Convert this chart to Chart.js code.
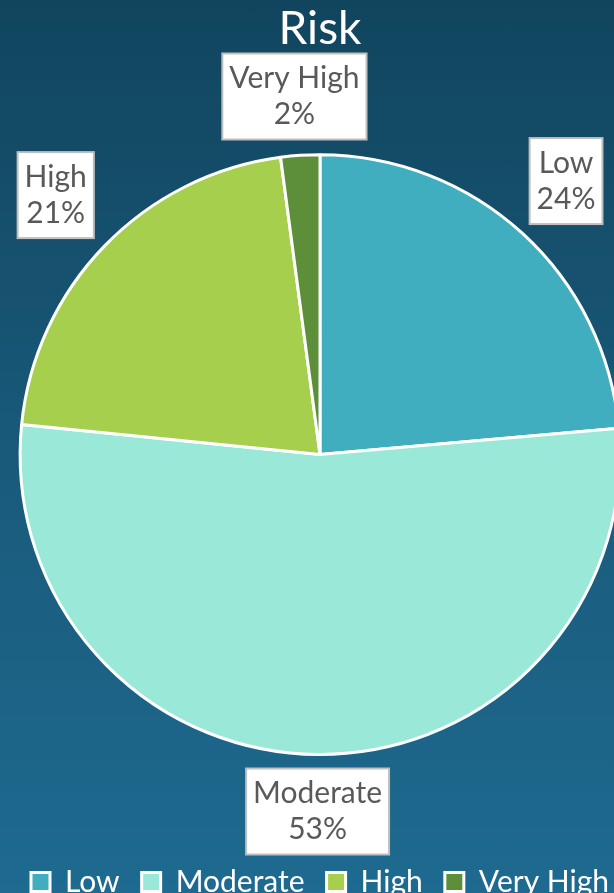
<!DOCTYPE html>
<html>
<head>
<meta charset="utf-8">
<title>Risk</title>
<script src="https://cdn.jsdelivr.net/npm/chart.js@4/dist/chart.umd.min.js"></script>
<style>
    html, body {
        margin: 0;
        padding: 0;
        width: 614px;
        height: 893px;
        overflow: hidden;
        background: linear-gradient(to bottom, #11455e 0%, #1a5d7f 60%, #1e6a90 100%);
        font-family: Lato, sans-serif;
    }
    #chart-container {
        position: relative;
        width: 640px;
        height: 893px;
    }
</style>
</head>
<body>
<div id="chart-container">
    <canvas id="chart"></canvas>
</div>
<script>
// Data
const categories = ['Low', 'Moderate', 'High', 'Very High'];
const shares = [23.6, 53.0, 21.3, 2.1];
const sliceColors = ['#40aebf', '#9ae8d7', '#a5cf4c', '#5d8f3b'];

// Label box styling, how far each box sits outside its slice
const labelGap = [28, 14, 30, 16];
const labelFont = '30px Lato';
const labelLineHeight = 36;
const labelPadX = 7;
const labelPadY = 7;

let chart;

// Plugin to draw outside-end data labels with a white box
const boxLabels = {
    id: 'boxLabels',
    afterDatasetsDraw(chart) {
        const ctx = chart.ctx;
        const meta = chart.getDatasetMeta(0);
        const data = chart.data.datasets[0].data;
        const total = data.reduce((acc, cur) => acc + cur, 0);
        ctx.save();
        ctx.font = labelFont;
        ctx.textAlign = 'center';
        ctx.textBaseline = 'middle';
        meta.data.forEach((arc, i) => {
            const p = arc.getProps(['x', 'y', 'startAngle', 'endAngle', 'outerRadius'], true);
            const mid = (p.startAngle + p.endAngle) / 2;
            const lines = [chart.data.labels[i], Math.round(data[i] / total * 100) + '%'];
            const w = Math.max(...lines.map(t => ctx.measureText(t).width)) + labelPadX * 2;
            const h = lines.length * labelLineHeight + labelPadY * 2;
            const r = p.outerRadius + labelGap[i];
            const ax = p.x + Math.cos(mid) * r;
            const ay = p.y + Math.sin(mid) * r;
            const cx = ax + Math.cos(mid) * w / 2;
            const cy = ay + Math.sin(mid) * h / 2;
            ctx.fillStyle = '#ffffff';
            ctx.fillRect(cx - w / 2, cy - h / 2, w, h);
            ctx.strokeStyle = '#bfbfbf';
            ctx.lineWidth = 2;
            ctx.strokeRect(cx - w / 2, cy - h / 2, w, h);
            ctx.fillStyle = '#595959';
            lines.forEach((t, j) => {
                ctx.fillText(t, cx, cy - h / 2 + labelPadY + labelLineHeight * (j + 0.5));
            });
        });
        ctx.restore();
    }
};

window.onload = function () {
    const ctx = document.getElementById('chart').getContext('2d');
    chart = new Chart(ctx, {
        type: 'pie',
        data: {
            labels: categories,
            datasets: [{
                data: shares,
                backgroundColor: sliceColors,
                borderColor: '#ffffff',
                borderWidth: 3
            }]
        },
        options: {
            responsive: true,
            maintainAspectRatio: false,
            animation: false,
            layout: {
                padding: { top: 0, bottom: -14, left: 0, right: 0 }
            },
            plugins: {
                title: {
                    display: true,
                    text: 'Risk',
                    color: '#ffffff',
                    font: { family: 'Lato', size: 46, weight: 'normal' },
                    padding: { top: 2, bottom: 96 }
                },
                legend: {
                    position: 'bottom',
                    title: {
                        display: true,
                        text: '',
                        font: { size: 10, lineHeight: 1 },
                        padding: { top: 79, bottom: 0 }
                    },
                    labels: {
                        color: '#ffffff',
                        font: { family: 'Lato', size: 30 },
                        boxWidth: 19,
                        boxHeight: 19,
                        padding: 22
                    }
                },
                tooltip: { enabled: false }
            }
        },
        plugins: [boxLabels]
    });
};
</script>
</body>
</html>
